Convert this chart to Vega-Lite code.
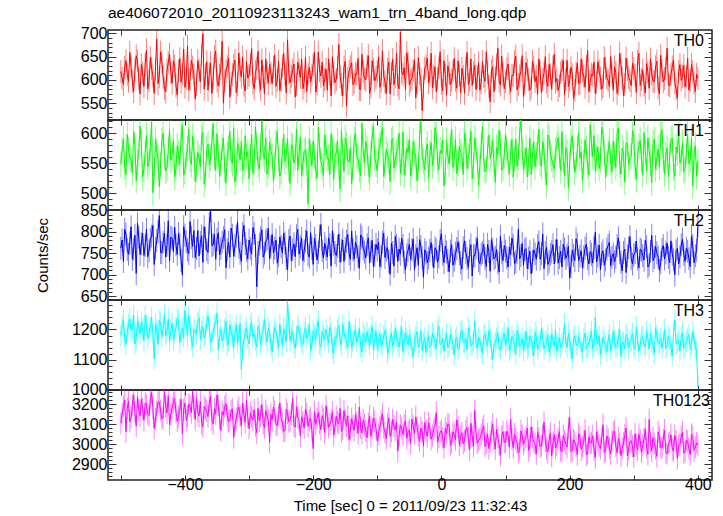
{
"$schema": "https://vega.github.io/schema/vega-lite/v6.json",
"padding": {"left": 34, "top": 5, "right": 5, "bottom": 0},
"spacing": 0,
"bounds": "flush",
"data": {"values": [
{"t":-500,"a":618,"b":548,"c":762,"d":1180,"e":3105},
{"t":-496,"a":590,"b":590,"c":731,"d":1232,"e":3188},
{"t":-492,"a":641,"b":531,"c":795,"d":1151,"e":3062},
{"t":-488,"a":597,"b":572,"c":748,"d":1218,"e":3215},
{"t":-484,"a":628,"b":556,"c":812,"d":1196,"e":3134},
{"t":-480,"a":575,"b":603,"c":760,"d":1247,"e":3247},
{"t":-476,"a":652,"b":521,"c":703,"d":1170,"e":3091},
{"t":-472,"a":603,"b":566,"c":788,"d":1208,"e":3172},
{"t":-468,"a":633,"b":583,"c":772,"d":1225,"e":3226},
{"t":-464,"a":586,"b":540,"c":745,"d":1163,"e":3119},
{"t":-460,"a":664,"b":597,"c":806,"d":1214,"e":3196},
{"t":-456,"a":598,"b":552,"c":756,"d":1188,"e":3143},
{"t":-452,"a":625,"b":619,"c":790,"d":1241,"e":3258},
{"t":-448,"a":571,"b":535,"c":724,"d":1102,"e":3080},
{"t":-444,"a":688,"b":570,"c":779,"d":1199,"e":3165},
{"t":-440,"a":607,"b":511,"c":838,"d":1230,"e":3209},
{"t":-436,"a":639,"b":588,"c":751,"d":1176,"e":3127},
{"t":-432,"a":582,"b":560,"c":797,"d":1252,"e":3268},
{"t":-428,"a":620,"b":541,"c":769,"d":1192,"e":3156},
{"t":-424,"a":655,"b":605,"c":733,"d":1161,"e":3098},
{"t":-420,"a":593,"b":563,"c":785,"d":1221,"e":3182},
{"t":-416,"a":630,"b":527,"c":811,"d":1185,"e":3231},
{"t":-412,"a":568,"b":579,"c":747,"d":1238,"e":3115},
{"t":-408,"a":646,"b":548,"c":771,"d":1157,"e":3174},
{"t":-404,"a":612,"b":613,"c":699,"d":1203,"e":3052},
{"t":-400,"a":584,"b":537,"c":792,"d":1264,"e":3206},
{"t":-396,"a":672,"b":574,"c":758,"d":1179,"e":3140},
{"t":-392,"a":601,"b":556,"c":824,"d":1212,"e":3189},
{"t":-388,"a":627,"b":595,"c":766,"d":1143,"e":3264},
{"t":-384,"a":559,"b":520,"c":740,"d":1197,"e":3123},
{"t":-380,"a":641,"b":568,"c":803,"d":1226,"e":3161},
{"t":-376,"a":596,"b":544,"c":775,"d":1168,"e":3213},
{"t":-372,"a":699,"b":601,"c":729,"d":1209,"e":3087},
{"t":-368,"a":611,"b":530,"c":784,"d":1183,"e":3177},
{"t":-364,"a":578,"b":582,"c":752,"d":1244,"e":3138},
{"t":-360,"a":636,"b":559,"c":849,"d":1155,"e":3240},
{"t":-356,"a":604,"b":616,"c":770,"d":1190,"e":3101},
{"t":-352,"a":662,"b":538,"c":736,"d":1219,"e":3152},
{"t":-348,"a":587,"b":566,"c":798,"d":1132,"e":3195},
{"t":-344,"a":624,"b":549,"c":761,"d":1201,"e":3069},
{"t":-340,"a":550,"b":592,"c":787,"d":1174,"e":3145},
{"t":-336,"a":619,"b":517,"c":716,"d":1228,"e":3203},
{"t":-332,"a":647,"b":575,"c":776,"d":1160,"e":3112},
{"t":-328,"a":592,"b":556,"c":809,"d":1193,"e":3166},
{"t":-324,"a":631,"b":609,"c":743,"d":1137,"e":3034},
{"t":-320,"a":573,"b":533,"c":790,"d":1215,"e":3128},
{"t":-316,"a":658,"b":571,"c":764,"d":1181,"e":3185},
{"t":-312,"a":606,"b":586,"c":731,"d":1068,"e":3093},
{"t":-308,"a":589,"b":545,"c":815,"d":1170,"e":3149},
{"t":-304,"a":640,"b":561,"c":757,"d":1206,"e":3220},
{"t":-300,"a":610,"b":524,"c":781,"d":1152,"e":3078},
{"t":-296,"a":667,"b":598,"c":748,"d":1223,"e":3136},
{"t":-292,"a":581,"b":552,"c":796,"d":1185,"e":3171},
{"t":-288,"a":625,"b":579,"c":672,"d":1142,"e":3057},
{"t":-284,"a":598,"b":540,"c":771,"d":1198,"e":3116},
{"t":-280,"a":643,"b":621,"c":805,"d":1176,"e":3198},
{"t":-276,"a":570,"b":557,"c":750,"d":1234,"e":3082},
{"t":-272,"a":615,"b":532,"c":783,"d":1159,"e":3142},
{"t":-268,"a":634,"b":585,"c":737,"d":1190,"e":3009},
{"t":-264,"a":592,"b":563,"c":794,"d":1127,"e":3121},
{"t":-260,"a":653,"b":546,"c":762,"d":1205,"e":3163},
{"t":-256,"a":600,"b":603,"c":727,"d":1168,"e":3095},
{"t":-252,"a":577,"b":528,"c":788,"d":1218,"e":3207},
{"t":-248,"a":629,"b":569,"c":751,"d":1147,"e":3108},
{"t":-244,"a":612,"b":553,"c":774,"d":1183,"e":3067},
{"t":-240,"a":686,"b":591,"c":712,"d":1293,"e":3154},
{"t":-236,"a":594,"b":516,"c":790,"d":1161,"e":3119},
{"t":-232,"a":621,"b":577,"c":758,"d":1195,"e":3229},
{"t":-228,"a":563,"b":560,"c":742,"d":1138,"e":3085},
{"t":-224,"a":638,"b":538,"c":806,"d":1212,"e":3133},
{"t":-220,"a":605,"b":594,"c":765,"d":1174,"e":3041},
{"t":-216,"a":581,"b":549,"c":733,"d":1150,"e":3110},
{"t":-212,"a":648,"b":572,"c":779,"d":1206,"e":3176},
{"t":-208,"a":612,"b":482,"c":747,"d":1186,"e":3089},
{"t":-204,"a":596,"b":566,"c":798,"d":1131,"e":3131},
{"t":-200,"a":632,"b":587,"c":724,"d":1196,"e":2978},
{"t":-196,"a":574,"b":541,"c":768,"d":1165,"e":3099},
{"t":-192,"a":660,"b":610,"c":752,"d":1229,"e":3158},
{"t":-188,"a":608,"b":555,"c":817,"d":1143,"e":3073},
{"t":-184,"a":587,"b":530,"c":739,"d":1178,"e":3125},
{"t":-180,"a":623,"b":576,"c":760,"d":1200,"e":3192},
{"t":-176,"a":645,"b":559,"c":786,"d":1156,"e":3084},
{"t":-172,"a":566,"b":599,"c":720,"d":1187,"e":3118},
{"t":-168,"a":615,"b":523,"c":771,"d":1120,"e":3046},
{"t":-164,"a":601,"b":567,"c":745,"d":1171,"e":3139},
{"t":-160,"a":676,"b":545,"c":795,"d":1214,"e":3102},
{"t":-156,"a":590,"b":604,"c":757,"d":1148,"e":3064},
{"t":-152,"a":627,"b":536,"c":731,"d":1190,"e":3167},
{"t":-148,"a":544,"b":581,"c":778,"d":1163,"e":3091},
{"t":-144,"a":618,"b":552,"c":749,"d":1227,"e":3023},
{"t":-140,"a":637,"b":515,"c":802,"d":1139,"e":3128},
{"t":-136,"a":595,"b":589,"c":736,"d":1181,"e":3070},
{"t":-132,"a":612,"b":562,"c":766,"d":1158,"e":3109},
{"t":-128,"a":580,"b":540,"c":715,"d":1203,"e":3186},
{"t":-124,"a":655,"b":617,"c":788,"d":1124,"e":3055},
{"t":-120,"a":603,"b":551,"c":753,"d":1175,"e":3097},
{"t":-116,"a":629,"b":573,"c":770,"d":1192,"e":3032},
{"t":-112,"a":571,"b":526,"c":728,"d":1146,"e":3141},
{"t":-108,"a":641,"b":595,"c":780,"d":1210,"e":3077},
{"t":-104,"a":598,"b":558,"c":745,"d":1167,"e":3113},
{"t":-100,"a":617,"b":537,"c":758,"d":1134,"e":3016},
{"t":-96,"a":584,"b":580,"c":719,"d":1186,"e":3086},
{"t":-92,"a":662,"b":609,"c":776,"d":1152,"e":3152},
{"t":-88,"a":596,"b":547,"c":740,"d":1198,"e":3058},
{"t":-84,"a":623,"b":564,"c":763,"d":1119,"e":3100},
{"t":-80,"a":570,"b":519,"c":701,"d":1170,"e":3039},
{"t":-76,"a":644,"b":591,"c":752,"d":1145,"e":3124},
{"t":-72,"a":607,"b":556,"c":789,"d":1204,"e":3071},
{"t":-68,"a":589,"b":575,"c":731,"d":1161,"e":2965},
{"t":-64,"a":703,"b":534,"c":748,"d":1180,"e":3094},
{"t":-60,"a":611,"b":602,"c":768,"d":1127,"e":3049},
{"t":-56,"a":579,"b":550,"c":712,"d":1191,"e":3117},
{"t":-52,"a":636,"b":568,"c":757,"d":1149,"e":3062},
{"t":-48,"a":598,"b":529,"c":736,"d":1166,"e":3003},
{"t":-44,"a":619,"b":586,"c":783,"d":1108,"e":3090},
{"t":-40,"a":561,"b":561,"c":744,"d":1177,"e":3137},
{"t":-36,"a":648,"b":543,"c":722,"d":1140,"e":3044},
{"t":-32,"a":602,"b":620,"c":766,"d":1196,"e":3081},
{"t":-28,"a":585,"b":553,"c":694,"d":1158,"e":2990},
{"t":-24,"a":630,"b":571,"c":751,"d":1123,"e":3066},
{"t":-20,"a":594,"b":525,"c":739,"d":1182,"e":3107},
{"t":-16,"a":657,"b":584,"c":775,"d":1147,"e":3025},
{"t":-12,"a":608,"b":558,"c":716,"d":1171,"e":3075},
{"t":-8,"a":574,"b":597,"c":758,"d":1135,"e":3158},
{"t":-4,"a":626,"b":539,"c":742,"d":1212,"e":3036},
{"t":0,"a":593,"b":566,"c":796,"d":1153,"e":3068},
{"t":4,"a":641,"b":512,"c":728,"d":1128,"e":2982},
{"t":8,"a":567,"b":588,"c":753,"d":1186,"e":3053},
{"t":12,"a":615,"b":549,"c":707,"d":1144,"e":3096},
{"t":16,"a":599,"b":606,"c":770,"d":1167,"e":3010},
{"t":20,"a":646,"b":557,"c":734,"d":1116,"e":3046},
{"t":24,"a":582,"b":533,"c":761,"d":1175,"e":3122},
{"t":28,"a":611,"b":579,"c":749,"d":1141,"e":2995},
{"t":32,"a":625,"b":562,"c":713,"d":1198,"e":3057},
{"t":36,"a":571,"b":600,"c":779,"d":1156,"e":3018},
{"t":40,"a":659,"b":541,"c":738,"d":1131,"e":3083},
{"t":44,"a":600,"b":570,"c":756,"d":1179,"e":2971},
{"t":48,"a":588,"b":524,"c":697,"d":1150,"e":3040},
{"t":52,"a":631,"b":592,"c":744,"d":1228,"e":3169},
{"t":56,"a":606,"b":555,"c":785,"d":1137,"e":3006},
{"t":60,"a":578,"b":546,"c":726,"d":1164,"e":3029},
{"t":64,"a":639,"b":611,"c":752,"d":1121,"e":3074},
{"t":68,"a":597,"b":536,"c":737,"d":1185,"e":2988},
{"t":72,"a":616,"b":574,"c":771,"d":1146,"e":3051},
{"t":76,"a":553,"b":558,"c":708,"d":1170,"e":3014},
{"t":80,"a":628,"b":588,"c":760,"d":1101,"e":3101},
{"t":84,"a":604,"b":518,"c":741,"d":1158,"e":2976},
{"t":88,"a":668,"b":565,"c":728,"d":1190,"e":3035},
{"t":92,"a":589,"b":583,"c":790,"d":1133,"e":2944},
{"t":96,"a":612,"b":542,"c":733,"d":1172,"e":3062},
{"t":100,"a":596,"b":598,"c":755,"d":1148,"e":3008},
{"t":104,"a":634,"b":551,"c":718,"d":1207,"e":3043},
{"t":108,"a":575,"b":569,"c":747,"d":1139,"e":3126},
{"t":112,"a":609,"b":527,"c":769,"d":1163,"e":2983},
{"t":116,"a":651,"b":590,"c":730,"d":1118,"e":3026},
{"t":120,"a":590,"b":560,"c":806,"d":1181,"e":2958},
{"t":124,"a":620,"b":622,"c":745,"d":1151,"e":3067},
{"t":128,"a":564,"b":539,"c":722,"d":1129,"e":3000},
{"t":132,"a":637,"b":576,"c":761,"d":1194,"e":3039},
{"t":136,"a":601,"b":553,"c":739,"d":1142,"e":2969},
{"t":140,"a":583,"b":531,"c":702,"d":1168,"e":3087},
{"t":144,"a":627,"b":585,"c":758,"d":1112,"e":3012},
{"t":148,"a":608,"b":564,"c":736,"d":1176,"e":2951},
{"t":152,"a":645,"b":607,"c":777,"d":1149,"e":3030},
{"t":156,"a":572,"b":545,"c":749,"d":1203,"e":2993},
{"t":160,"a":614,"b":572,"c":714,"d":1135,"e":3110},
{"t":164,"a":596,"b":514,"c":764,"d":1161,"e":2977},
{"t":168,"a":633,"b":593,"c":731,"d":1124,"e":3021},
{"t":172,"a":580,"b":557,"c":753,"d":1186,"e":2940},
{"t":176,"a":655,"b":540,"c":725,"d":1145,"e":3048},
{"t":180,"a":603,"b":581,"c":782,"d":1128,"e":2996},
{"t":184,"a":588,"b":563,"c":740,"d":1173,"e":3063},
{"t":188,"a":621,"b":603,"c":718,"d":1154,"e":2962},
{"t":192,"a":568,"b":529,"c":760,"d":1219,"e":3019},
{"t":196,"a":642,"b":568,"c":746,"d":1140,"e":2985},
{"t":200,"a":599,"b":550,"c":692,"d":1166,"e":3134},
{"t":204,"a":612,"b":596,"c":757,"d":1103,"e":2970},
{"t":208,"a":577,"b":535,"c":733,"d":1179,"e":3011},
{"t":212,"a":636,"b":574,"c":771,"d":1147,"e":2947},
{"t":216,"a":593,"b":558,"c":743,"d":1160,"e":3036},
{"t":220,"a":618,"b":521,"c":715,"d":1125,"e":2989},
{"t":224,"a":584,"b":589,"c":762,"d":1188,"e":3070},
{"t":228,"a":663,"b":547,"c":738,"d":1143,"e":2955},
{"t":232,"a":597,"b":614,"c":754,"d":1169,"e":3004},
{"t":236,"a":609,"b":561,"c":727,"d":1136,"e":3042},
{"t":240,"a":571,"b":538,"c":799,"d":1241,"e":2932},
{"t":244,"a":639,"b":577,"c":744,"d":1152,"e":3015},
{"t":248,"a":604,"b":555,"c":711,"d":1117,"e":2979},
{"t":252,"a":586,"b":599,"c":756,"d":1175,"e":3097},
{"t":256,"a":625,"b":526,"c":735,"d":1149,"e":2968},
{"t":260,"a":599,"b":570,"c":768,"d":1163,"e":3023},
{"t":264,"a":650,"b":552,"c":721,"d":1131,"e":2950},
{"t":268,"a":578,"b":587,"c":749,"d":1195,"e":3058},
{"t":272,"a":616,"b":543,"c":741,"d":1140,"e":2991},
{"t":276,"a":592,"b":609,"c":786,"d":1171,"e":3031},
{"t":280,"a":633,"b":532,"c":729,"d":1110,"e":2943},
{"t":284,"a":566,"b":566,"c":752,"d":1157,"e":3006},
{"t":288,"a":647,"b":584,"c":705,"d":1184,"e":3081},
{"t":292,"a":605,"b":548,"c":763,"d":1138,"e":2973},
{"t":296,"a":588,"b":562,"c":738,"d":1166,"e":3017},
{"t":300,"a":624,"b":595,"c":746,"d":1146,"e":2936},
{"t":304,"a":573,"b":523,"c":778,"d":1209,"e":2998},
{"t":308,"a":657,"b":578,"c":716,"d":1127,"e":3049},
{"t":312,"a":601,"b":556,"c":757,"d":1174,"e":2961},
{"t":316,"a":589,"b":601,"c":734,"d":1150,"e":3027},
{"t":320,"a":635,"b":537,"c":765,"d":1194,"e":2984},
{"t":324,"a":582,"b":571,"c":723,"d":1135,"e":3124},
{"t":328,"a":613,"b":517,"c":792,"d":1162,"e":2966},
{"t":332,"a":596,"b":590,"c":740,"d":1121,"e":3003},
{"t":336,"a":640,"b":559,"c":751,"d":1180,"e":2939},
{"t":340,"a":570,"b":544,"c":710,"d":1153,"e":3035},
{"t":344,"a":619,"b":606,"c":759,"d":1138,"e":2980},
{"t":348,"a":603,"b":533,"c":737,"d":1200,"e":3071},
{"t":352,"a":668,"b":575,"c":774,"d":1144,"e":2952},
{"t":356,"a":587,"b":561,"c":728,"d":1168,"e":3010},
{"t":360,"a":628,"b":592,"c":748,"d":1113,"e":2975},
{"t":364,"a":594,"b":528,"c":700,"d":1231,"e":3044},
{"t":368,"a":561,"b":567,"c":761,"d":1157,"e":2928},
{"t":372,"a":633,"b":550,"c":742,"d":1129,"e":2997},
{"t":376,"a":608,"b":584,"c":783,"d":1189,"e":3060},
{"t":380,"a":585,"b":541,"c":731,"d":1147,"e":2964},
{"t":384,"a":646,"b":598,"c":755,"d":1172,"e":3013},
{"t":388,"a":598,"b":556,"c":719,"d":1134,"e":2948},
{"t":392,"a":617,"b":512,"c":768,"d":1193,"e":3038},
{"t":396,"a":575,"b":579,"c":744,"d":1141,"e":2986},
{"t":400,"a":603,"b":553,"c":813,"d":1010,"e":2995},
{"t":-498,"a":604,"b":571,"c":781,"d":1212,"e":3150},
{"t":-494,"a":627,"b":545,"c":806,"d":1174,"e":3221},
{"t":-490,"a":612,"b":598,"c":759,"d":1190,"e":3178},
{"t":-486,"a":659,"b":560,"c":774,"d":1236,"e":3113},
{"t":-482,"a":597,"b":534,"c":736,"d":1203,"e":3195},
{"t":-478,"a":622,"b":579,"c":792,"d":1152,"e":3160},
{"t":-474,"a":641,"b":552,"c":820,"d":1229,"e":3238},
{"t":-470,"a":570,"b":612,"c":747,"d":1185,"e":3142},
{"t":-466,"a":615,"b":527,"c":797,"d":1201,"e":3179},
{"t":-462,"a":633,"b":568,"c":768,"d":1247,"e":3205},
{"t":-458,"a":581,"b":544,"c":742,"d":1170,"e":3152},
{"t":-454,"a":648,"b":576,"c":783,"d":1209,"e":3228},
{"t":-450,"a":609,"b":501,"c":815,"d":1186,"e":3184},
{"t":-446,"a":623,"b":590,"c":762,"d":1218,"e":3126},
{"t":-442,"a":592,"b":558,"c":800,"d":1150,"e":3211},
{"t":-438,"a":660,"b":547,"c":752,"d":1224,"e":3170},
{"t":-434,"a":606,"b":600,"c":776,"d":1203,"e":3133},
{"t":-430,"a":574,"b":537,"c":741,"d":1179,"e":3190},
{"t":-426,"a":637,"b":573,"c":826,"d":1234,"e":3243},
{"t":-422,"a":616,"b":555,"c":788,"d":1198,"e":3146},
{"t":-418,"a":641,"b":588,"c":754,"d":1167,"e":3207},
{"t":-414,"a":587,"b":542,"c":770,"d":1206,"e":3160},
{"t":-410,"a":619,"b":566,"c":796,"d":1229,"e":3138},
{"t":-406,"a":595,"b":594,"c":733,"d":1190,"e":3224},
{"t":-402,"a":666,"b":530,"c":812,"d":1173,"e":3173},
{"t":-398,"a":603,"b":561,"c":777,"d":1218,"e":3119},
{"t":-394,"a":578,"b":607,"c":749,"d":1246,"e":3201},
{"t":-390,"a":642,"b":548,"c":787,"d":1165,"e":3157},
{"t":-386,"a":611,"b":575,"c":803,"d":1201,"e":3185},
{"t":-382,"a":590,"b":539,"c":761,"d":1184,"e":3232},
{"t":-378,"a":621,"b":559,"c":744,"d":1239,"e":3141},
{"t":-374,"a":654,"b":593,"c":791,"d":1194,"e":3104},
{"t":-370,"a":580,"b":515,"c":812,"d":1172,"e":3189},
{"t":-366,"a":639,"b":574,"c":758,"d":1226,"e":3166},
{"t":-362,"a":614,"b":547,"c":820,"d":1208,"e":3212},
{"t":-358,"a":571,"b":586,"c":768,"d":1168,"e":3121},
{"t":-354,"a":650,"b":560,"c":795,"d":1213,"e":3178},
{"t":-350,"a":598,"b":599,"c":783,"d":1255,"e":3246},
{"t":-346,"a":610,"b":528,"c":746,"d":1176,"e":3130},
{"t":-342,"a":683,"b":576,"c":776,"d":1162,"e":3163},
{"t":-338,"a":598,"b":541,"c":805,"d":1201,"e":3187},
{"t":-334,"a":629,"b":565,"c":758,"d":1147,"e":3144},
{"t":-330,"a":563,"b":603,"c":741,"d":1216,"e":3120},
{"t":-326,"a":611,"b":550,"c":792,"d":1178,"e":3177},
{"t":-322,"a":642,"b":519,"c":768,"d":1192,"e":3096},
{"t":-318,"a":590,"b":584,"c":823,"d":1156,"e":3162},
{"t":-314,"a":622,"b":556,"c":750,"d":1220,"e":3141},
{"t":-310,"a":649,"b":538,"c":796,"d":1133,"e":3205},
{"t":-306,"a":576,"b":596,"c":773,"d":1189,"e":3110},
{"t":-302,"a":604,"b":569,"c":737,"d":1167,"e":3134},
{"t":-298,"a":633,"b":560,"c":762,"d":1208,"e":3157},
{"t":-294,"a":594,"b":533,"c":810,"d":1174,"e":3122},
{"t":-290,"a":618,"b":610,"c":768,"d":1164,"e":3092},
{"t":-286,"a":661,"b":548,"c":752,"d":1211,"e":3179},
{"t":-282,"a":579,"b":577,"c":786,"d":1150,"e":3140},
{"t":-278,"a":607,"b":566,"c":741,"d":1196,"e":3103},
{"t":-274,"a":645,"b":592,"c":778,"d":1182,"e":3168},
{"t":-270,"a":593,"b":545,"c":808,"d":1206,"e":3121},
{"t":-266,"a":615,"b":571,"c":765,"d":1148,"e":3149},
{"t":-262,"a":627,"b":520,"c":751,"d":1179,"e":3186},
{"t":-258,"a":586,"b":584,"c":781,"d":1191,"e":3098},
{"t":-254,"a":640,"b":557,"c":744,"d":1141,"e":3144},
{"t":-250,"a":599,"b":536,"c":766,"d":1176,"e":3127},
{"t":-246,"a":657,"b":598,"c":797,"d":1203,"e":3065},
{"t":-242,"a":572,"b":563,"c":738,"d":1160,"e":3176},
{"t":-238,"a":615,"b":541,"c":780,"d":1225,"e":3112},
{"t":-234,"a":608,"b":581,"c":733,"d":1183,"e":3150},
{"t":-230,"a":634,"b":550,"c":772,"d":1153,"e":3093},
{"t":-226,"a":590,"b":607,"c":791,"d":1179,"e":3187},
{"t":-222,"a":621,"b":566,"c":748,"d":1196,"e":3118},
{"t":-218,"a":644,"b":529,"c":785,"d":1159,"e":3137},
{"t":-214,"a":596,"b":570,"c":756,"d":1190,"e":3081},
{"t":-210,"a":575,"b":553,"c":802,"d":1170,"e":3152},
{"t":-206,"a":627,"b":590,"c":741,"d":1217,"e":3120},
{"t":-202,"a":610,"b":546,"c":762,"d":1149,"e":3068},
{"t":-198,"a":660,"b":562,"c":785,"d":1183,"e":3164},
{"t":-194,"a":591,"b":525,"c":734,"d":1205,"e":3128},
{"t":-190,"a":620,"b":578,"c":790,"d":1152,"e":3106},
{"t":-186,"a":638,"b":544,"c":756,"d":1194,"e":3143},
{"t":-182,"a":601,"b":597,"c":773,"d":1166,"e":3057},
{"t":-178,"a":578,"b":558,"c":741,"d":1181,"e":3133},
{"t":-174,"a":612,"b":531,"c":770,"d":1209,"e":3101},
{"t":-170,"a":650,"b":574,"c":803,"d":1138,"e":3160},
{"t":-166,"a":594,"b":563,"c":752,"d":1176,"e":3087},
{"t":-162,"a":627,"b":586,"c":766,"d":1197,"e":3111},
{"t":-158,"a":607,"b":507,"c":729,"d":1162,"e":3179},
{"t":-154,"a":566,"b":569,"c":781,"d":1216,"e":3076},
{"t":-150,"a":640,"b":592,"c":762,"d":1171,"e":3122},
{"t":-146,"a":603,"b":553,"c":794,"d":1141,"e":3140},
{"t":-142,"a":628,"b":576,"c":736,"d":1189,"e":3071},
{"t":-138,"a":590,"b":543,"c":758,"d":1161,"e":3094},
{"t":-134,"a":613,"b":600,"c":776,"d":1202,"e":3150},
{"t":-130,"a":646,"b":557,"c":742,"d":1174,"e":3053},
{"t":-126,"a":579,"b":529,"c":793,"d":1143,"e":3082},
{"t":-122,"a":618,"b":571,"c":761,"d":1188,"e":3122},
{"t":-118,"a":600,"b":586,"c":739,"d":1158,"e":3066},
{"t":-114,"a":652,"b":540,"c":786,"d":1170,"e":3104},
{"t":-110,"a":585,"b":565,"c":755,"d":1185,"e":3040},
{"t":-106,"a":623,"b":612,"c":719,"d":1131,"e":3131},
{"t":-102,"a":606,"b":549,"c":771,"d":1194,"e":3078},
{"t":-98,"a":649,"b":569,"c":776,"d":1163,"e":3050},
{"t":-94,"a":597,"b":596,"c":742,"d":1145,"e":3117},
{"t":-90,"a":609,"b":528,"c":797,"d":1178,"e":3083},
{"t":-86,"a":571,"b":573,"c":757,"d":1171,"e":3027},
{"t":-82,"a":638,"b":554,"c":731,"d":1136,"e":3130},
{"t":-78,"a":614,"b":588,"c":774,"d":1188,"e":3064},
{"t":-74,"a":590,"b":542,"c":720,"d":1159,"e":3091},
{"t":-70,"a":657,"b":567,"c":768,"d":1176,"e":3112},
{"t":-66,"a":581,"b":600,"c":760,"d":1142,"e":3045},
{"t":-62,"a":617,"b":551,"c":785,"d":1208,"e":3078},
{"t":-58,"a":626,"b":530,"c":729,"d":1154,"e":3095},
{"t":-54,"a":658,"b":575,"c":746,"d":1169,"e":3029},
{"t":-50,"a":589,"b":589,"c":771,"d":1181,"e":3071},
{"t":-46,"a":603,"b":545,"c":759,"d":1137,"e":3126},
{"t":-42,"a":643,"b":567,"c":711,"d":1162,"e":3052},
{"t":-38,"a":593,"b":521,"c":763,"d":1193,"e":3084},
{"t":-34,"a":612,"b":596,"c":782,"d":1155,"e":3015},
{"t":-30,"a":534,"b":560,"c":740,"d":1130,"e":3060},
{"t":-26,"a":625,"b":539,"c":758,"d":1173,"e":3108},
{"t":-22,"a":647,"b":582,"c":728,"d":1164,"e":3039},
{"t":-18,"a":610,"b":566,"c":757,"d":1140,"e":3077},
{"t":-14,"a":583,"b":546,"c":744,"d":1189,"e":3043},
{"t":-10,"a":628,"b":609,"c":763,"d":1158,"e":3090},
{"t":-6,"a":603,"b":553,"c":729,"d":1196,"e":3011},
{"t":-2,"a":660,"b":571,"c":780,"d":1149,"e":3059},
{"t":2,"a":577,"b":588,"c":748,"d":1170,"e":3030},
{"t":6,"a":612,"b":536,"c":767,"d":1162,"e":3078},
{"t":10,"a":630,"b":562,"c":733,"d":1139,"e":3102},
{"t":14,"a":590,"b":579,"c":755,"d":1184,"e":2994},
{"t":18,"a":619,"b":543,"c":722,"d":1151,"e":3062},
{"t":22,"a":600,"b":590,"c":750,"d":1166,"e":3024},
{"t":26,"a":641,"b":550,"c":777,"d":1133,"e":3085},
{"t":30,"a":572,"b":568,"c":728,"d":1190,"e":3041},
{"t":34,"a":608,"b":531,"c":763,"d":1157,"e":3003},
{"t":38,"a":625,"b":585,"c":752,"d":1171,"e":3069},
{"t":42,"a":590,"b":561,"c":717,"d":1205,"e":3032},
{"t":46,"a":645,"b":603,"c":770,"d":1145,"e":3104},
{"t":50,"a":616,"b":546,"c":744,"d":1163,"e":2990},
{"t":54,"a":579,"b":572,"c":762,"d":1156,"e":3053},
{"t":58,"a":637,"b":513,"c":733,"d":1174,"e":3019},
{"t":62,"a":594,"b":579,"c":748,"d":1139,"e":3047},
{"t":66,"a":608,"b":557,"c":771,"d":1178,"e":3092},
{"t":70,"a":660,"b":540,"c":719,"d":1160,"e":3005},
{"t":74,"a":586,"b":597,"c":754,"d":1197,"e":2978},
{"t":78,"a":619,"b":566,"c":782,"d":1133,"e":3060},
{"t":82,"a":575,"b":549,"c":737,"d":1149,"e":3021},
{"t":86,"a":632,"b":576,"c":759,"d":1172,"e":3075},
{"t":90,"a":598,"b":605,"c":706,"d":1141,"e":2997},
{"t":94,"a":651,"b":538,"c":751,"d":1159,"e":3040},
{"t":98,"a":581,"b":563,"c":768,"d":1188,"e":3012},
{"t":102,"a":624,"b":574,"c":740,"d":1165,"e":3066},
{"t":106,"a":593,"b":532,"c":764,"d":1130,"e":2985},
{"t":110,"a":610,"b":589,"c":786,"d":1177,"e":3025},
{"t":114,"a":639,"b":556,"c":726,"d":1150,"e":3051},
{"t":118,"a":579,"b":545,"c":752,"d":1196,"e":3007},
{"t":122,"a":608,"b":601,"c":737,"d":1142,"e":2973},
{"t":126,"a":652,"b":570,"c":773,"d":1170,"e":3044},
{"t":130,"a":593,"b":554,"c":758,"d":1159,"e":3018},
{"t":134,"a":621,"b":527,"c":714,"d":1137,"e":3081},
{"t":138,"a":578,"b":592,"c":755,"d":1178,"e":2990},
{"t":142,"a":640,"b":561,"c":731,"d":1147,"e":3034},
{"t":146,"a":596,"b":544,"c":749,"d":1191,"e":3002},
{"t":150,"a":569,"b":578,"c":768,"d":1135,"e":3063},
{"t":154,"a":617,"b":550,"c":736,"d":1160,"e":2987},
{"t":158,"a":601,"b":586,"c":795,"d":1173,"e":3045},
{"t":162,"a":650,"b":535,"c":751,"d":1150,"e":3016},
{"t":166,"a":586,"b":597,"c":724,"d":1182,"e":2960},
{"t":170,"a":611,"b":566,"c":747,"d":1144,"e":3055},
{"t":174,"a":628,"b":548,"c":770,"d":1162,"e":3009},
{"t":178,"a":595,"b":571,"c":756,"d":1199,"e":2981},
{"t":182,"a":577,"b":593,"c":727,"d":1153,"e":3027},
{"t":186,"a":616,"b":538,"c":755,"d":1139,"e":2968},
{"t":190,"a":642,"b":555,"c":771,"d":1171,"e":3043},
{"t":194,"a":601,"b":576,"c":738,"d":1158,"e":3000},
{"t":198,"a":586,"b":509,"c":766,"d":1188,"e":3079},
{"t":202,"a":627,"b":584,"c":720,"d":1132,"e":2963},
{"t":206,"a":560,"b":562,"c":745,"d":1166,"e":3022},
{"t":210,"a":614,"b":547,"c":784,"d":1151,"e":2990},
{"t":214,"a":593,"b":601,"c":733,"d":1175,"e":3052},
{"t":218,"a":645,"b":569,"c":756,"d":1141,"e":2974},
{"t":222,"a":608,"b":552,"c":742,"d":1169,"e":3013},
{"t":226,"a":629,"b":574,"c":771,"d":1136,"e":2946},
{"t":230,"a":575,"b":531,"c":725,"d":1158,"e":3037},
{"t":234,"a":612,"b":583,"c":748,"d":1193,"e":3008},
{"t":238,"a":638,"b":596,"c":763,"d":1147,"e":2972},
{"t":242,"a":595,"b":558,"c":730,"d":1165,"e":3061},
{"t":246,"a":619,"b":541,"c":769,"d":1180,"e":2994},
{"t":250,"a":580,"b":610,"c":749,"d":1139,"e":3026},
{"t":254,"a":648,"b":567,"c":722,"d":1158,"e":2959},
{"t":258,"a":604,"b":549,"c":760,"d":1127,"e":3041},
{"t":262,"a":586,"b":587,"c":776,"d":1184,"e":2982},
{"t":266,"a":612,"b":536,"c":741,"d":1152,"e":3015},
{"t":270,"a":628,"b":563,"c":730,"d":1168,"e":3066},
{"t":274,"a":571,"b":600,"c":768,"d":1145,"e":2957},
{"t":278,"a":657,"b":548,"c":752,"d":1198,"e":3004},
{"t":282,"a":604,"b":575,"c":709,"d":1157,"e":2979},
{"t":286,"a":590,"b":519,"c":760,"d":1136,"e":3047},
{"t":290,"a":622,"b":581,"c":744,"d":1173,"e":2941},
{"t":294,"a":599,"b":559,"c":789,"d":1160,"e":3012},
{"t":298,"a":636,"b":604,"c":725,"d":1187,"e":2990},
{"t":302,"a":610,"b":545,"c":752,"d":1134,"e":3052},
{"t":306,"a":640,"b":566,"c":737,"d":1163,"e":2970},
{"t":310,"a":588,"b":588,"c":760,"d":1150,"e":3020},
{"t":314,"a":621,"b":530,"c":745,"d":1178,"e":2995},
{"t":318,"a":572,"b":569,"c":781,"d":1142,"e":3076},
{"t":322,"a":617,"b":592,"c":718,"d":1169,"e":2949},
{"t":326,"a":645,"b":551,"c":754,"d":1185,"e":3008},
{"t":330,"a":597,"b":583,"c":733,"d":1148,"e":3033},
{"t":334,"a":628,"b":540,"c":766,"d":1206,"e":2978},
{"t":338,"a":583,"b":574,"c":741,"d":1155,"e":3062},
{"t":342,"a":653,"b":597,"c":728,"d":1171,"e":2985},
{"t":346,"a":596,"b":556,"c":768,"d":1160,"e":3024},
{"t":350,"a":625,"b":564,"c":751,"d":1137,"e":2958},
{"t":354,"a":590,"b":527,"c":740,"d":1177,"e":3003},
{"t":358,"a":612,"b":589,"c":779,"d":1143,"e":3047},
{"t":362,"a":643,"b":543,"c":735,"d":1189,"e":2966},
{"t":366,"a":581,"b":577,"c":756,"d":1152,"e":3016},
{"t":370,"a":618,"b":602,"c":725,"d":1165,"e":2993},
{"t":374,"a":599,"b":558,"c":770,"d":1176,"e":3039},
{"t":378,"a":631,"b":536,"c":748,"d":1138,"e":2955},
{"t":382,"a":606,"b":570,"c":762,"d":1161,"e":3021},
{"t":386,"a":578,"b":549,"c":737,"d":1183,"e":2977},
{"t":390,"a":633,"b":591,"c":790,"d":1150,"e":3050},
{"t":394,"a":594,"b":563,"c":728,"d":1166,"e":2969},
{"t":398,"a":612,"b":528,"c":757,"d":1128,"e":3007}
]},
"vconcat": [
{
 "width": 604, "height": 90,
 "title": {"text": "ae406072010_20110923113243_wam1_trn_4band_long.qdp", "anchor": "start", "frame": "group", "offset": 4},
 "layer": [
  {"mark": {"type": "tick", "orient": "vertical", "color": "#ff0000", "size": 23, "thickness": 1, "opacity": 0.5, "clip": true},
   "encoding": {
    "x": {"field": "t", "type": "quantitative", "scale": {"domain": [-520, 422], "nice": false, "zero": false}, "axis": {"orient": "top", "values": [-500,-400,-300,-200,-100,0,100,200,300,400], "labels": false, "title": null}},
    "y": {"field": "a", "type": "quantitative", "scale": {"domain": [514, 707], "nice": false, "zero": false}, "axis": {"orient": "right", "values": [550,600,650,700], "labels": false, "title": null}}}},
  {"mark": {"type": "line", "color": "#ff0000", "strokeWidth": 1, "clip": true},
   "encoding": {
    "x": {"field": "t", "type": "quantitative", "axis": {"orient": "bottom", "values": [-500,-400,-300,-200,-100,0,100,200,300,400], "labels": false, "title": null}},
    "y": {"field": "a", "type": "quantitative", "axis": {"orient": "left", "values": [550,600,650,700], "title": null}}}},
  {"mark": {"type": "line", "opacity": 0},
   "encoding": {
    "x": {"field": "t", "type": "quantitative", "axis": null},
    "y": {"field": "a", "type": "quantitative", "axis": {"orient": "left", "values": [520,530,540,560,570,580,590,610,620,630,640,660,670,680,690], "labels": false, "title": null, "tickSize": -4}}}},
  {"mark": {"type": "line", "opacity": 0},
   "encoding": {
    "x": {"field": "t", "type": "quantitative", "axis": null},
    "y": {"field": "a", "type": "quantitative", "axis": {"orient": "right", "values": [520,530,540,560,570,580,590,610,620,630,640,660,670,680,690], "labels": false, "title": null, "tickSize": -4}}}},
  {"data": {"values": [{"lab": "TH0"}]},
   "mark": {"type": "text", "align": "right", "baseline": "top", "fontSize": 16, "dx": -8, "dy": 3, "color": "#000"},
   "encoding": {"x": {"datum": 422, "type": "quantitative", "axis": null}, "y": {"datum": 707, "type": "quantitative", "axis": null}, "text": {"field": "lab"}}}
 ],
 "resolve": {"axis": {"x": "independent", "y": "independent"}}
},
{
 "width": 604, "height": 90,
 "layer": [
  {"mark": {"type": "tick", "orient": "vertical", "color": "#00ff00", "size": 26, "thickness": 1, "opacity": 0.5, "clip": true},
   "encoding": {
    "x": {"field": "t", "type": "quantitative", "scale": {"domain": [-520, 422], "nice": false, "zero": false}, "axis": {"orient": "top", "values": [-500,-400,-300,-200,-100,0,100,200,300,400], "labels": false, "title": null}},
    "y": {"field": "b", "type": "quantitative", "scale": {"domain": [472, 622], "nice": false, "zero": false}, "axis": {"orient": "right", "values": [500,550,600], "labels": false, "title": null}}}},
  {"mark": {"type": "line", "color": "#00ff00", "strokeWidth": 1, "clip": true},
   "encoding": {
    "x": {"field": "t", "type": "quantitative", "axis": {"orient": "bottom", "values": [-500,-400,-300,-200,-100,0,100,200,300,400], "labels": false, "title": null}},
    "y": {"field": "b", "type": "quantitative", "axis": {"orient": "left", "values": [500,550,600], "title": null}}}},
  {"mark": {"type": "line", "opacity": 0},
   "encoding": {
    "x": {"field": "t", "type": "quantitative", "axis": null},
    "y": {"field": "b", "type": "quantitative", "axis": {"orient": "left", "values": [480,490,510,520,530,540,560,570,580,590,610,620], "labels": false, "title": null, "tickSize": -4}}}},
  {"mark": {"type": "line", "opacity": 0},
   "encoding": {
    "x": {"field": "t", "type": "quantitative", "axis": null},
    "y": {"field": "b", "type": "quantitative", "axis": {"orient": "right", "values": [480,490,510,520,530,540,560,570,580,590,610,620], "labels": false, "title": null, "tickSize": -4}}}},
  {"data": {"values": [{"lab": "TH1"}]},
   "mark": {"type": "text", "align": "right", "baseline": "top", "fontSize": 16, "dx": -8, "dy": 3, "color": "#000"},
   "encoding": {"x": {"datum": 422, "type": "quantitative", "axis": null}, "y": {"datum": 622, "type": "quantitative", "axis": null}, "text": {"field": "lab"}}}
 ],
 "resolve": {"axis": {"x": "independent", "y": "independent"}}
},
{
 "width": 604, "height": 90,
 "layer": [
  {"mark": {"type": "tick", "orient": "vertical", "color": "#0000ff", "size": 23, "thickness": 1, "opacity": 0.5, "clip": true},
   "encoding": {
    "x": {"field": "t", "type": "quantitative", "scale": {"domain": [-520, 422], "nice": false, "zero": false}, "axis": {"orient": "top", "values": [-500,-400,-300,-200,-100,0,100,200,300,400], "labels": false, "title": null}},
    "y": {"field": "c", "type": "quantitative", "scale": {"domain": [641, 851], "nice": false, "zero": false}, "axis": {"orient": "right", "values": [650,700,750,800,850], "labels": false, "title": null}}}},
  {"mark": {"type": "line", "color": "#0000ff", "strokeWidth": 1, "clip": true},
   "encoding": {
    "x": {"field": "t", "type": "quantitative", "axis": {"orient": "bottom", "values": [-500,-400,-300,-200,-100,0,100,200,300,400], "labels": false, "title": null}},
    "y": {"field": "c", "type": "quantitative", "axis": {"orient": "left", "values": [650,700,750,800,850], "title": "Counts/sec", "titlePadding": 30}}}},
  {"mark": {"type": "line", "opacity": 0},
   "encoding": {
    "x": {"field": "t", "type": "quantitative", "axis": null},
    "y": {"field": "c", "type": "quantitative", "axis": {"orient": "left", "values": [660,670,680,690,710,720,730,740,760,770,780,790,810,820,830,840], "labels": false, "title": null, "tickSize": -4}}}},
  {"mark": {"type": "line", "opacity": 0},
   "encoding": {
    "x": {"field": "t", "type": "quantitative", "axis": null},
    "y": {"field": "c", "type": "quantitative", "axis": {"orient": "right", "values": [660,670,680,690,710,720,730,740,760,770,780,790,810,820,830,840], "labels": false, "title": null, "tickSize": -4}}}},
  {"data": {"values": [{"lab": "TH2"}]},
   "mark": {"type": "text", "align": "right", "baseline": "top", "fontSize": 16, "dx": -8, "dy": 3, "color": "#000"},
   "encoding": {"x": {"datum": 422, "type": "quantitative", "axis": null}, "y": {"datum": 851, "type": "quantitative", "axis": null}, "text": {"field": "lab"}}}
 ],
 "resolve": {"axis": {"x": "independent", "y": "independent"}}
},
{
 "width": 604, "height": 90,
 "layer": [
  {"mark": {"type": "tick", "orient": "vertical", "color": "#00ffff", "size": 21, "thickness": 1, "opacity": 0.5, "clip": true},
   "encoding": {
    "x": {"field": "t", "type": "quantitative", "scale": {"domain": [-520, 422], "nice": false, "zero": false}, "axis": {"orient": "top", "values": [-500,-400,-300,-200,-100,0,100,200,300,400], "labels": false, "title": null}},
    "y": {"field": "d", "type": "quantitative", "scale": {"domain": [999, 1298], "nice": false, "zero": false}, "axis": {"orient": "right", "values": [1000,1100,1200], "labels": false, "title": null}}}},
  {"mark": {"type": "line", "color": "#00ffff", "strokeWidth": 1, "clip": true},
   "encoding": {
    "x": {"field": "t", "type": "quantitative", "axis": {"orient": "bottom", "values": [-500,-400,-300,-200,-100,0,100,200,300,400], "labels": false, "title": null}},
    "y": {"field": "d", "type": "quantitative", "axis": {"orient": "left", "values": [1000,1100,1200], "title": null}}}},
  {"mark": {"type": "line", "opacity": 0},
   "encoding": {
    "x": {"field": "t", "type": "quantitative", "axis": null},
    "y": {"field": "d", "type": "quantitative", "axis": {"orient": "left", "values": [1020,1040,1060,1080,1120,1140,1160,1180,1220,1240,1260,1280], "labels": false, "title": null, "tickSize": -4}}}},
  {"mark": {"type": "line", "opacity": 0},
   "encoding": {
    "x": {"field": "t", "type": "quantitative", "axis": null},
    "y": {"field": "d", "type": "quantitative", "axis": {"orient": "right", "values": [1020,1040,1060,1080,1120,1140,1160,1180,1220,1240,1260,1280], "labels": false, "title": null, "tickSize": -4}}}},
  {"data": {"values": [{"lab": "TH3"}]},
   "mark": {"type": "text", "align": "right", "baseline": "top", "fontSize": 16, "dx": -8, "dy": 3, "color": "#000"},
   "encoding": {"x": {"datum": 422, "type": "quantitative", "axis": null}, "y": {"datum": 1298, "type": "quantitative", "axis": null}, "text": {"field": "lab"}}}
 ],
 "resolve": {"axis": {"x": "independent", "y": "independent"}}
},
{
 "width": 604, "height": 90,
 "layer": [
  {"mark": {"type": "tick", "orient": "vertical", "color": "#ff00ff", "size": 22, "thickness": 1, "opacity": 0.5, "clip": true},
   "encoding": {
    "x": {"field": "t", "type": "quantitative", "scale": {"domain": [-520, 422], "nice": false, "zero": false}, "axis": {"orient": "top", "values": [-500,-400,-300,-200,-100,0,100,200,300,400], "labels": false, "title": null}},
    "y": {"field": "e", "type": "quantitative", "scale": {"domain": [2821, 3271], "nice": false, "zero": false}, "axis": {"orient": "right", "values": [2900,3000,3100,3200], "labels": false, "title": null}}}},
  {"mark": {"type": "line", "color": "#ff00ff", "strokeWidth": 1, "clip": true},
   "encoding": {
    "x": {"field": "t", "type": "quantitative", "axis": {"orient": "bottom", "values": [-500,-400,-300,-200,-100,0,100,200,300,400], "labelExpr": "datum.value % 200 === 0 ? datum.label : ''", "labelPadding": 1, "title": "Time [sec] 0 = 2011/09/23 11:32:43", "titlePadding": 6}},
    "y": {"field": "e", "type": "quantitative", "axis": {"orient": "left", "values": [2900,3000,3100,3200], "title": null}}}},
  {"mark": {"type": "line", "opacity": 0},
   "encoding": {
    "x": {"field": "t", "type": "quantitative", "axis": null},
    "y": {"field": "e", "type": "quantitative", "axis": {"orient": "left", "values": [2840,2860,2880,2920,2940,2960,2980,3020,3040,3060,3080,3120,3140,3160,3180,3220,3240,3260], "labels": false, "title": null, "tickSize": -4}}}},
  {"mark": {"type": "line", "opacity": 0},
   "encoding": {
    "x": {"field": "t", "type": "quantitative", "axis": null},
    "y": {"field": "e", "type": "quantitative", "axis": {"orient": "right", "values": [2840,2860,2880,2920,2940,2960,2980,3020,3040,3060,3080,3120,3140,3160,3180,3220,3240,3260], "labels": false, "title": null, "tickSize": -4}}}},
  {"data": {"values": [{"lab": "TH0123"}]},
   "mark": {"type": "text", "align": "right", "baseline": "top", "fontSize": 16, "dx": -2, "dy": 3, "color": "#000"},
   "encoding": {"x": {"datum": 422, "type": "quantitative", "axis": null}, "y": {"datum": 3271, "type": "quantitative", "axis": null}, "text": {"field": "lab"}}}
 ],
 "resolve": {"axis": {"x": "independent", "y": "independent"}}
}
],
"config": {
 "font": "Liberation Sans",
 "numberFormat": "d",
 "view": {"stroke": "#222", "strokeWidth": 1.5},
 "axis": {"domain": false, "grid": false, "labelFont": "Liberation Sans", "labelFontSize": 16, "labelColor": "#000", "tickColor": "#333", "tickWidth": 1, "labelFlush": false, "labelOverlap": false, "titleFont": "Liberation Sans", "titleFontSize": 15, "titleFontWeight": "normal", "titleColor": "#000"},
 "axisX": {"tickSize": -5},
 "axisY": {"tickSize": -8, "labelPadding": 9},
 "title": {"font": "Liberation Sans", "fontSize": 15.5, "fontWeight": "normal", "color": "#000"}
}
}
